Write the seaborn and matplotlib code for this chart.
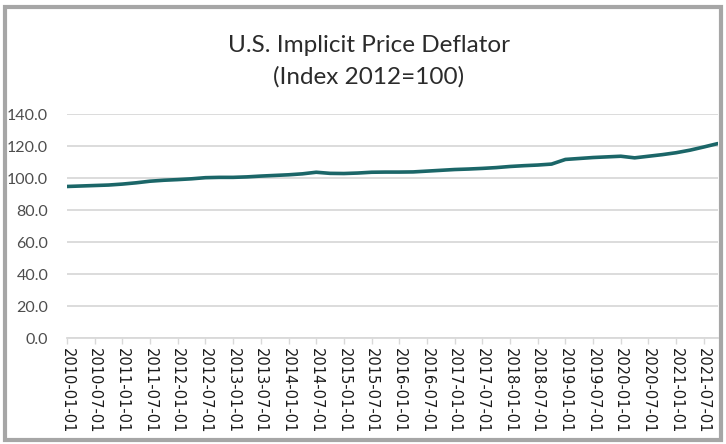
import matplotlib
matplotlib.use("Agg")
import matplotlib.pyplot as plt
import matplotlib.patches as patches
import pandas as pd
import seaborn as sns

# quarterly index values, 2010Q1 .. 2021Q4
quarters = pd.date_range("2010-01-01", "2021-10-01", freq="QS")
deflator = [
    94.7, 95.0, 95.3, 95.6, 96.2, 97.0, 98.0, 98.6,
    99.0, 99.5, 100.2, 100.4, 100.4, 100.7, 101.2, 101.6,
    102.0, 102.6, 103.6, 102.9, 102.8, 103.1, 103.6, 103.7,
    103.7, 103.8, 104.3, 104.8, 105.3, 105.6, 106.0, 106.5,
    107.2, 107.7, 108.1, 108.7, 111.6, 112.2, 112.8, 113.2,
    113.6, 112.6, 113.6, 114.6, 115.8, 117.4, 119.4, 121.5,
]
tick_labels = [d.strftime("%Y-%m-%d") for d in quarters]

df = pd.DataFrame({"pos": range(len(deflator)), "value": deflator})

sns.set_style("white")
fig = plt.figure(figsize=(7.26, 4.44), dpi=100)
ax = fig.add_axes([67 / 726, 1 - 338 / 444, (717.7 - 67) / 726, (338 - 114) / 444])

sns.lineplot(data=df, x="pos", y="value", ax=ax, color="#1b6668", linewidth=2.6)

ax.set_xlim(0, len(deflator) - 1)
ax.set_ylim(0, 140)
ax.set_yticks(range(0, 141, 20))
ax.set_yticklabels([f"{v:.1f}" for v in range(0, 141, 20)],
                   fontfamily="Lato", fontsize=11.5, color="#4d4d4d")
ax.set_xticks(range(0, len(deflator), 2))
ax.set_xticklabels(tick_labels[::2], rotation=270, fontfamily="DejaVu Sans",
                   fontsize=10.5, color="#1a1a1a")
ax.set_xlabel("")
ax.set_ylabel("")

ax.grid(axis="y", color="#d9d9d9", linewidth=1.3)
ax.set_axisbelow(True)
for side in ["top", "right", "left"]:
    ax.spines[side].set_visible(False)
ax.spines["bottom"].set_color("#d9d9d9")
ax.spines["bottom"].set_linewidth(1.3)
ax.tick_params(axis="x", bottom=True, length=4, width=1, color="#d9d9d9", pad=3)
ax.tick_params(axis="y", left=False, pad=10)

fig.text(0.508, 1 - 45 / 444, "U.S. Implicit Price Deflator", ha="center", va="center",
         fontfamily="Lato", fontsize=17.5, color="#2b2b2b")
fig.text(0.508, 1 - 77 / 444, "(Index 2012=100)", ha="center", va="center",
         fontfamily="Lato", fontsize=17.5, color="#2b2b2b")

# grey frame around the chart area
fig.patches.append(patches.Rectangle((5 / 726, 4 / 444), 716 / 726, 433 / 444,
                                     transform=fig.transFigure, fill=False,
                                     edgecolor="#a6a6a6", linewidth=3))

fig.savefig("out.png", dpi=100)
